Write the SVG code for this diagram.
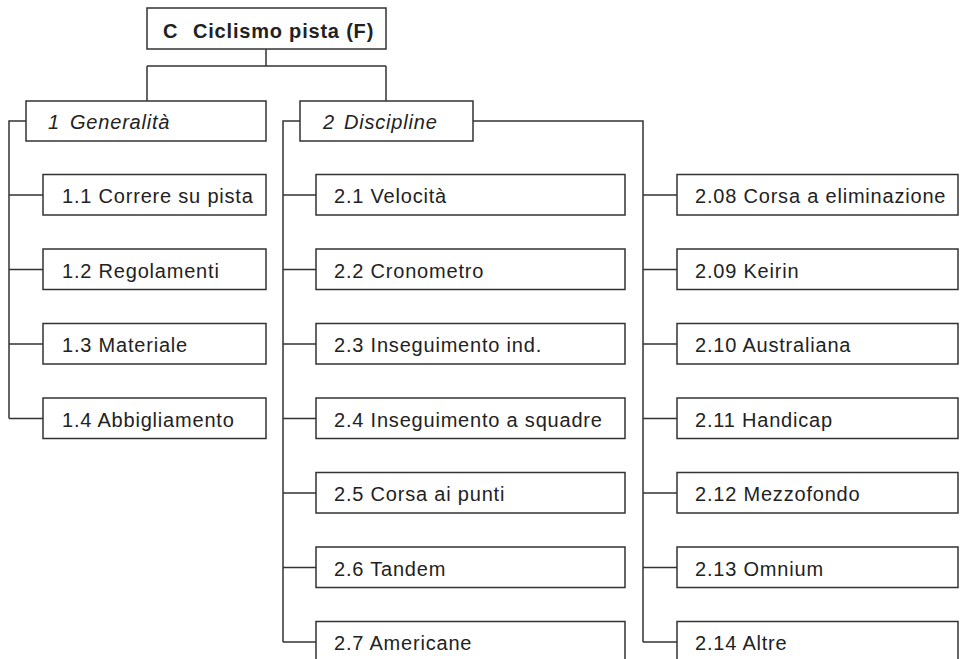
<svg xmlns="http://www.w3.org/2000/svg" width="960" height="659" viewBox="0 0 960 659">
<style>
.box{fill:#fff;stroke:#333;stroke-width:1.5}
.ln{fill:none;stroke:#333;stroke-width:1.5}
text{font-family:"Liberation Sans",Arial,sans-serif;font-size:20px;fill:#222;letter-spacing:0.8px}
.t{font-weight:bold}
.h{font-style:italic}
</style>
<rect width="960" height="659" fill="#fff"/>
<g id="connectors">
<path class="ln" d="M266,49V66M147,66H386M147,66V101M386,66V101"/>
<path class="ln" d="M26,121H9V418.5M9,195H43M9,269.5H43M9,344H43M9,418.5H43"/>
<path class="ln" d="M300,121H283V642M283,195H316M283,269.5H316M283,344H316M283,418.5H316M283,493H316M283,567.5H316M283,642H316"/>
<path class="ln" d="M473,121H643V642M643,195H677M643,269.5H677M643,344H677M643,418.5H677M643,493H677M643,567.5H677M643,642H677"/>
</g>
<g id="root"><rect class="box" x="147" y="8" width="239" height="41"/><text class="t" y="38"><tspan x="163">C</tspan><tspan x="193">Ciclismo pista (F)</tspan></text></g>
<g id="n1"><rect class="box" x="26" y="101" width="240" height="40"/><text class="h" y="129"><tspan x="48">1</tspan><tspan x="70">Generalità</tspan></text></g>
<g id="n2"><rect class="box" x="300" y="101" width="173" height="40"/><text class="h" y="129"><tspan x="323">2</tspan><tspan x="344">Discipline</tspan></text></g>
<g id="n1_1"><rect class="box" x="43" y="174.5" width="223" height="40.5"/><text x="62" y="203">1.1 Correre su pista</text></g>
<g id="n1_2"><rect class="box" x="43" y="249" width="223" height="40.5"/><text x="62" y="277.5">1.2 Regolamenti</text></g>
<g id="n1_3"><rect class="box" x="43" y="323.5" width="223" height="40.5"/><text x="62" y="352">1.3 Materiale</text></g>
<g id="n1_4"><rect class="box" x="43" y="398" width="223" height="40.5"/><text x="62" y="426.5">1.4 Abbigliamento</text></g>
<g id="n2_1"><rect class="box" x="316" y="174.5" width="309" height="40.5"/><text x="334" y="203">2.1 Velocità</text></g>
<g id="n2_2"><rect class="box" x="316" y="249" width="309" height="40.5"/><text x="334" y="277.5">2.2 Cronometro</text></g>
<g id="n2_3"><rect class="box" x="316" y="323.5" width="309" height="40.5"/><text x="334" y="352">2.3 Inseguimento ind.</text></g>
<g id="n2_4"><rect class="box" x="316" y="398" width="309" height="40.5"/><text x="334" y="426.5">2.4 Inseguimento a squadre</text></g>
<g id="n2_5"><rect class="box" x="316" y="472.5" width="309" height="40.5"/><text x="334" y="501">2.5 Corsa ai punti</text></g>
<g id="n2_6"><rect class="box" x="316" y="547" width="309" height="40.5"/><text x="334" y="575.5">2.6 Tandem</text></g>
<g id="n2_7"><rect class="box" x="316" y="621.5" width="309" height="40.5"/><text x="334" y="650">2.7 Americane</text></g>
<g id="n2_08"><rect class="box" x="677" y="174.5" width="281" height="40.5"/><text x="695" y="203">2.08 Corsa a eliminazione</text></g>
<g id="n2_09"><rect class="box" x="677" y="249" width="281" height="40.5"/><text x="695" y="277.5">2.09 Keirin</text></g>
<g id="n2_10"><rect class="box" x="677" y="323.5" width="281" height="40.5"/><text x="695" y="352">2.10 Australiana</text></g>
<g id="n2_11"><rect class="box" x="677" y="398" width="281" height="40.5"/><text x="695" y="426.5">2.11 Handicap</text></g>
<g id="n2_12"><rect class="box" x="677" y="472.5" width="281" height="40.5"/><text x="695" y="501">2.12 Mezzofondo</text></g>
<g id="n2_13"><rect class="box" x="677" y="547" width="281" height="40.5"/><text x="695" y="575.5">2.13 Omnium</text></g>
<g id="n2_14"><rect class="box" x="677" y="621.5" width="281" height="40.5"/><text x="695" y="650">2.14 Altre</text></g>
</svg>
